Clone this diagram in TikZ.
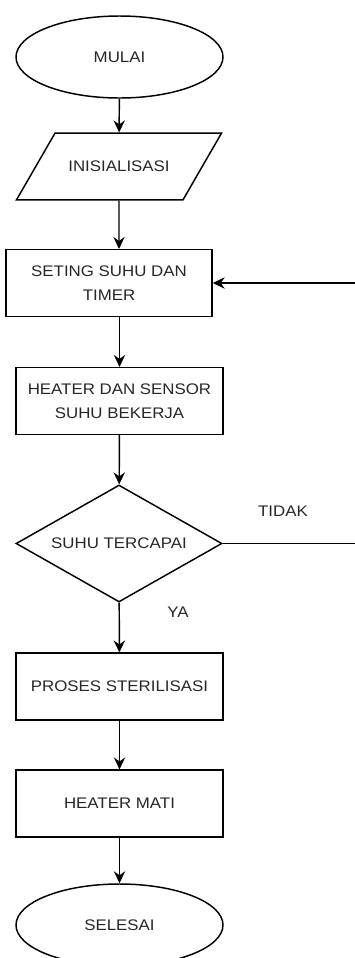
\documentclass[tikz,border=0pt]{standalone}
\usepackage{fontspec}
\setmainfont{Liberation Sans}[FakeStretch=1.1]
\usepackage{tikz}
\usetikzlibrary{arrows.meta,positioning}
\usetikzlibrary{shapes.geometric}

\begin{document}
\begin{tikzpicture}[
    x=0.75pt,
    y=-0.75pt,
    >={Stealth[length=9pt,width=8.5pt,inset=3pt]},
    every node/.style={font=\fontsize{11.5}{18}\selectfont,text=black!85},
    line/.style={line width=1.1pt},
    arr/.style={line,->},
    terminal/.style={ellipse,draw,line,inner sep=0pt,
        minimum width=155.25pt,minimum height=61.5pt},
    inputbox/.style={trapezium,draw,line,inner xsep=0pt,inner ysep=21pt,
        text height=8pt,text depth=0pt,
        trapezium left angle=60,trapezium right angle=120,
        trapezium stretches body,minimum width=153.75pt},
    process/.style={rectangle,draw,line,inner sep=0pt,align=center,
        minimum width=155pt,minimum height=50pt},
    decision/.style={diamond,draw,line,inner sep=0pt,aspect=1.76,
        minimum width=154.5pt,minimum height=87.75pt}
]

\useasboundingbox (0,0) rectangle (354,958);

% Main flow
\node[terminal] (mulai) at (119.5,57) {MULAI};
\node[inputbox] (init) at (119,166.5) {INISIALISASI};
\node[process,minimum width=154.5pt] (seting) at (109,283)
    {SETING SUHU DAN\\TIMER};
\node[process] (heater) at (119.5,401)
    {HEATER DAN SENSOR\\SUHU BEKERJA};
\node[decision] (suhu) at (119,543.5) {SUHU TERCAPAI};
\node[process] (proses) at (119.5,686.5) {PROSES STERILISASI};
\node[process] (mati) at (119.5,803.5) {HEATER MATI};
\node[terminal] (selesai) at (119.5,925) {SELESAI};

% Branch labels
\node (tidak) at (283,511) {TIDAK};
\node (ya) at (178,612) {YA};

% Connectors
\draw[arr] (mulai) -- (init);
\draw[arr] (init) -- (init |- seting.north);
\draw[arr] (seting.south -| heater) -- (heater);
\draw[arr] (heater) -- (suhu);
\draw[arr] (suhu) -- (proses);
\draw[arr] (proses) -- (mati);
\draw[arr] (mati) -- (selesai);

% Loop back when not reached
\coordinate (back) at (357,0);
\draw[arr] (suhu.east) -- (suhu.east -| back) |- (seting.east);

\end{tikzpicture}
\end{document}
